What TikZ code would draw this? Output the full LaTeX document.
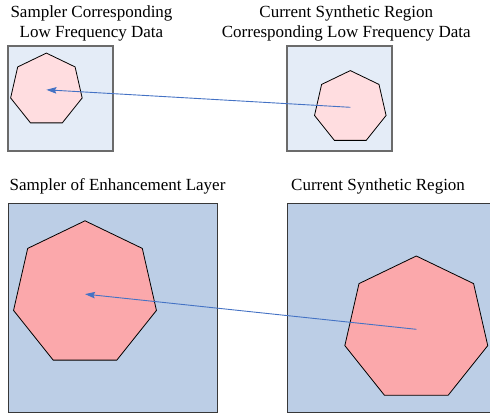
\documentclass[tikz,border=0pt]{standalone}
\usepackage{fontspec}
\setmainfont{Liberation Serif}
\newfontfamily\capfont{Liberation Serif}
\usetikzlibrary{shapes.geometric, arrows.meta, positioning}

\definecolor{lfback}{HTML}{E4ECF7}
\definecolor{lfpatch}{HTML}{FFDDE0}
\definecolor{elback}{HTML}{BCCEE6}
\definecolor{elpatch}{HTML}{FBA8AB}
\definecolor{flowblue}{HTML}{4472C4}

\begin{document}
\begin{tikzpicture}[
    x=1pt, y=-1pt,
    >=Stealth,
    lfbox/.style={draw=black!58, line width=1.8pt, fill=lfback, minimum size=105pt, inner sep=0pt, outer sep=0pt},
    elbox/.style={draw=black!78, line width=1.3pt, fill=elback, minimum size=209pt, inner sep=0pt, outer sep=0pt},
    patch/.style={draw, line width=0.8pt, regular polygon, regular polygon sides=7, inner sep=0pt, outer sep=0pt},
    lfpatchnode/.style={patch, fill=lfpatch, minimum size=73.4pt},
    elpatchnode/.style={patch, fill=elpatch, minimum size=146.6pt},
    caption/.style={font=\capfont\fontsize{17}{19.5}\selectfont, inner sep=0pt, align=center},
    flow/.style={draw=flowblue, line width=0.9pt, -{Stealth[length=10pt, width=6.5pt, inset=1.5pt]}},
    ]

    \useasboundingbox (0,0) rectangle (490,415);
    \clip (0,0) rectangle (490,415);

    % Low frequency layer
    \node (lfSampler) [lfbox] at (60.5,98.5) {};
    \node (lfRegion) [lfbox] at (339.7,98.5) {};
    \node (lfSamplerPatch) [lfpatchnode] at (46.4,89.8) {};
    \node (lfRegionPatch) [lfpatchnode] at (350.3,107.3) {};

    \node (lfSamplerText) [caption, anchor=north] at (91.5,5.7) {Sampler Corresponding\\Low Frequency Data};
    \node (lfRegionText) [caption, anchor=north] at (346.3,5.7) {Current Synthetic Region\\Corresponding Low Frequency Data};

    % Enhancement layer
    \node (elSampler) [elbox] at (113,307.8) {};
    \node (elRegion) [elbox] at (392.3,307.8) {};
    \node (elSamplerPatch) [elpatchnode] at (85,294.1) {};
    \node (elRegionPatch) [elpatchnode] at (416.3,329.3) {};

    \node (elSamplerText) [caption, anchor=base west] at (9.5,190.7) {Sampler of Enhancement Layer};
    \node (elRegionText) [caption, anchor=base west] at (291,190.7) {Current Synthetic Region};

    % Matching
    \draw[flow] (lfRegionPatch.center) -- (lfSamplerPatch.center);
    \draw[flow] (elRegionPatch.center) -- (elSamplerPatch.center);
\end{tikzpicture}
\end{document}
